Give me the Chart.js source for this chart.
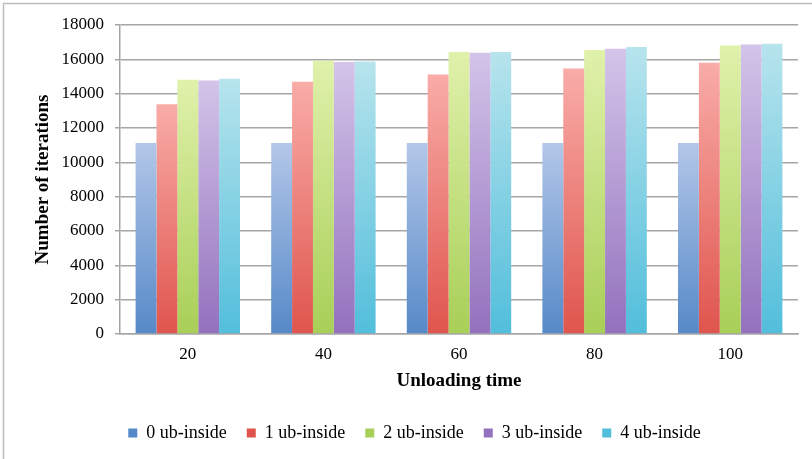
<!DOCTYPE html>
<html>
<head>
<meta charset="utf-8">
<title>Unloading time vs iterations</title>
<script src="https://cdn.jsdelivr.net/npm/chart.js@4/dist/chart.umd.min.js"></script>
<style>
  html, body { margin: 0; padding: 0; background: #fff; }
  #wrap { width: 812px; height: 459px; }
</style>
</head>
<body>
<div id="wrap"><canvas id="chart" width="812" height="459"></canvas></div>
<script>
// ===== DATA =====
const unloadingTimes = ["20", "40", "60", "80", "100"];
const seriesNames = ["0 ub-inside", "1 ub-inside", "2 ub-inside", "3 ub-inside", "4 ub-inside"];
const ub0 = [11130, 11130, 11130, 11130, 11130];
const ub1 = [13390, 14690, 15120, 15470, 15800];
const ub2 = [14810, 15920, 16420, 16540, 16810];
const ub3 = [14770, 15840, 16380, 16620, 16860];
const ub4 = [14870, 15880, 16420, 16720, 16910];
const yTicks = [0, 2000, 4000, 6000, 8000, 10000, 12000, 14000, 16000, 18000];

// colores: [arriba, abajo]
const shades = [
  ["#b3c7e8", "#5689c8"],
  ["#f9aca8", "#df554d"],
  ["#e0f1ab", "#a8cf57"],
  ["#d3c4e9", "#9371bd"],
  ["#b7e4ed", "#52bedb"]
];

const serif = "'Liberation Serif', 'Times New Roman', serif";
const gridGray = "#a6a6a6";

// ===== GRADIENTE POR BARRA =====
function barFill(idx) {
  return ctx => {
    const [top, bottom] = shades[idx];
    const chart = ctx.chart;
    if (!chart.chartArea || ctx.type !== "data") return bottom;
    const y = chart.scales.y;
    const g = chart.ctx.createLinearGradient(0, y.getPixelForValue(ctx.raw), 0, y.getPixelForValue(0));
    g.addColorStop(0, top);
    g.addColorStop(1, bottom);
    return g;
  };
}

const seriesValues = [ub0, ub1, ub2, ub3, ub4];
const datasets = seriesNames.map((name, i) => ({
  label: name,
  data: seriesValues[i],
  backgroundColor: barFill(i),
  borderWidth: 0,
  categoryPercentage: 0.77,
  barPercentage: 1
}));

// ===== MARCO Y FONDO =====
const framePlugin = {
  id: "frame",
  beforeDraw(chart) {
    const c = chart.ctx;
    c.save();
    c.fillStyle = "#fff";
    c.fillRect(0, 0, chart.width, chart.height);
    c.strokeStyle = "#bdbdbd";
    c.lineWidth = 1.5;
    c.beginPath();
    c.moveTo(3.5, chart.height + 5);
    c.lineTo(3.5, 3.5);
    c.lineTo(chart.width + 5, 3.5);
    c.stroke();
    c.restore();
  }
};

// ===== GRAFICO =====
new Chart(document.getElementById("chart"), {
  type: "bar",
  data: { labels: unloadingTimes, datasets },
  plugins: [framePlugin],
  options: {
    responsive: false,
    animation: false,
    layout: { padding: { left: 31, top: 25, right: 14, bottom: 7 } },
    plugins: {
      legend: {
        position: "bottom",
        labels: {
          boxWidth: 9,
          boxHeight: 9,
          padding: 20,
          color: "#000",
          font: { family: serif, size: 18 }
        }
      },
      tooltip: { enabled: false }
    },
    scales: {
      x: {
        grid: { display: false, drawTicks: false },
        border: { display: true, color: gridGray, width: 1.5 },
        ticks: { color: "#000", padding: 10, font: { family: serif, size: 17 } },
        title: {
          display: true,
          text: "Unloading time",
          color: "#000",
          font: { family: serif, size: 19, weight: "bold" },
          padding: { top: 0, bottom: 11.6 }
        },
        afterFit: scale => { scale.height = 70; }
      },
      y: {
        min: 0,
        max: 18000,
        afterBuildTicks: scale => { scale.ticks = yTicks.map(v => ({ value: v })); },
        grid: { color: gridGray, lineWidth: 1.5, tickLength: 5 },
        border: { display: true, color: gridGray, width: 1.5 },
        ticks: {
          color: "#000",
          padding: 11,
          font: { family: serif, size: 17 },
          callback: v => String(v)
        },
        title: {
          display: true,
          text: "Number of iterations",
          color: "#000",
          font: { family: serif, size: 19, weight: "bold" },
          padding: { top: 0.6, bottom: 0 }
        },
        afterFit: scale => { scale.width = 89; }
      }
    }
  }
});
</script>
</body>
</html>
